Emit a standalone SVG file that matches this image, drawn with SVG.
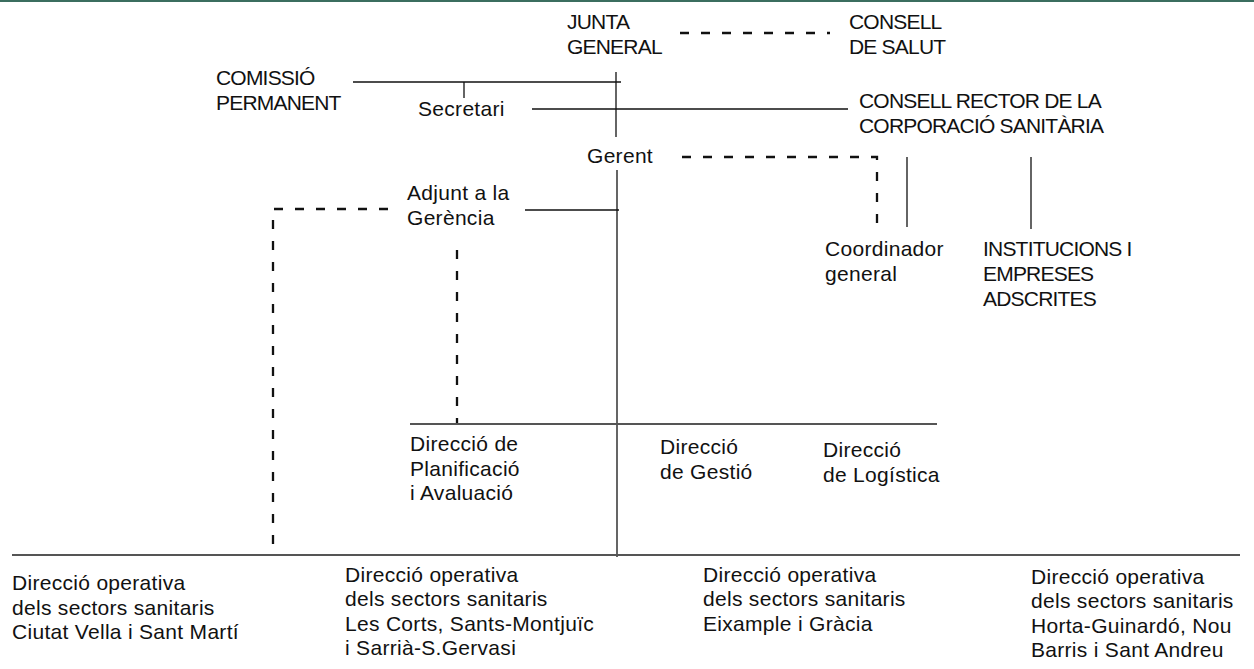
<svg xmlns="http://www.w3.org/2000/svg" width="1254" height="669" viewBox="0 0 1254 669">
  <style>
    text { font-family: "Liberation Sans", Arial, sans-serif; font-size: 21px; fill: #111; letter-spacing: 0.3px; }
    text.caps { letter-spacing: -0.8px; }
    .thin { stroke: #111; stroke-width: 1.3; fill: none; }
    .main { stroke: #555; stroke-width: 1.8; fill: none; }
    .dash { stroke: #111; stroke-width: 2.3; fill: none; stroke-dasharray: 9 12; }
  </style>
  <rect x="0" y="0" width="1254" height="669" fill="#ffffff"/>
  <rect x="0" y="0" width="1254" height="2" fill="#3b6e5f"/>

  <g id="connectors">
    <line class="dash" x1="680" y1="33" x2="830" y2="33"/>
    <line class="thin" x1="353" y1="82" x2="621" y2="82"/>
    <line class="thin" x1="464" y1="82" x2="464" y2="98"/>
    <line class="thin" x1="616" y1="72" x2="616" y2="137"/>
    <line class="thin" x1="532" y1="109" x2="848" y2="109"/>
    <polyline class="dash" points="682,157 877,157 877,227"/>
    <line class="thin" x1="907" y1="157" x2="907" y2="227"/>
    <line class="thin" x1="1031" y1="157" x2="1031" y2="229"/>
    <line class="main" x1="617" y1="170" x2="617" y2="557"/>
    <line class="thin" x1="525" y1="210" x2="619" y2="210"/>
    <polyline class="dash" points="388,209 273,209 273,555"/>
    <line class="dash" x1="457" y1="250" x2="457" y2="424"/>
    <line class="main" x1="410" y1="424" x2="937" y2="424"/>
    <line class="main" x1="12" y1="555" x2="1240" y2="555"/>
  </g>

  <g id="junta-general">
    <text class="caps" x="567" y="29">JUNTA</text>
    <text class="caps" x="567" y="54">GENERAL</text>
  </g>
  <g id="consell-salut">
    <text class="caps" x="849" y="29">CONSELL</text>
    <text class="caps" x="849" y="54">DE SALUT</text>
  </g>
  <g id="comissio-permanent">
    <text class="caps" x="216" y="85">COMISSIÓ</text>
    <text class="caps" x="216" y="110">PERMANENT</text>
  </g>
  <g id="secretari">
    <text x="418" y="116">Secretari</text>
  </g>
  <g id="consell-rector">
    <text class="caps" x="859" y="108">CONSELL RECTOR DE LA</text>
    <text class="caps" x="859" y="133">CORPORACIÓ SANITÀRIA</text>
  </g>
  <g id="gerent">
    <text x="587" y="163">Gerent</text>
  </g>
  <g id="adjunt-gerencia">
    <text x="407" y="200">Adjunt a la</text>
    <text x="407" y="225">Gerència</text>
  </g>
  <g id="coordinador-general">
    <text x="825" y="256">Coordinador</text>
    <text x="825" y="281">general</text>
  </g>
  <g id="institucions">
    <text class="caps" x="983" y="256">INSTITUCIONS I</text>
    <text class="caps" x="983" y="281">EMPRESES</text>
    <text class="caps" x="983" y="306">ADSCRITES</text>
  </g>
  <g id="direccio-planificacio">
    <text x="410" y="451">Direcció de</text>
    <text x="410" y="476">Planificació</text>
    <text x="410" y="500">i Avaluació</text>
  </g>
  <g id="direccio-gestio">
    <text x="660" y="454">Direcció</text>
    <text x="660" y="479">de Gestió</text>
  </g>
  <g id="direccio-logistica">
    <text x="823" y="457">Direcció</text>
    <text x="823" y="482">de Logística</text>
  </g>
  <g id="do-ciutat-vella">
    <text x="12" y="590">Direcció operativa</text>
    <text x="12" y="615">dels sectors sanitaris</text>
    <text x="12" y="639">Ciutat Vella i Sant Martí</text>
  </g>
  <g id="do-les-corts">
    <text x="345" y="582">Direcció operativa</text>
    <text x="345" y="606">dels sectors sanitaris</text>
    <text x="345" y="631">Les Corts, Sants-Montjuïc</text>
    <text x="345" y="655">i Sarrià-S.Gervasi</text>
  </g>
  <g id="do-eixample">
    <text x="703" y="582">Direcció operativa</text>
    <text x="703" y="606">dels sectors sanitaris</text>
    <text x="703" y="631">Eixample i Gràcia</text>
  </g>
  <g id="do-horta">
    <text x="1031" y="584">Direcció operativa</text>
    <text x="1031" y="608">dels sectors sanitaris</text>
    <text x="1031" y="633">Horta-Guinardó, Nou</text>
    <text x="1031" y="657">Barris i Sant Andreu</text>
  </g>
</svg>
